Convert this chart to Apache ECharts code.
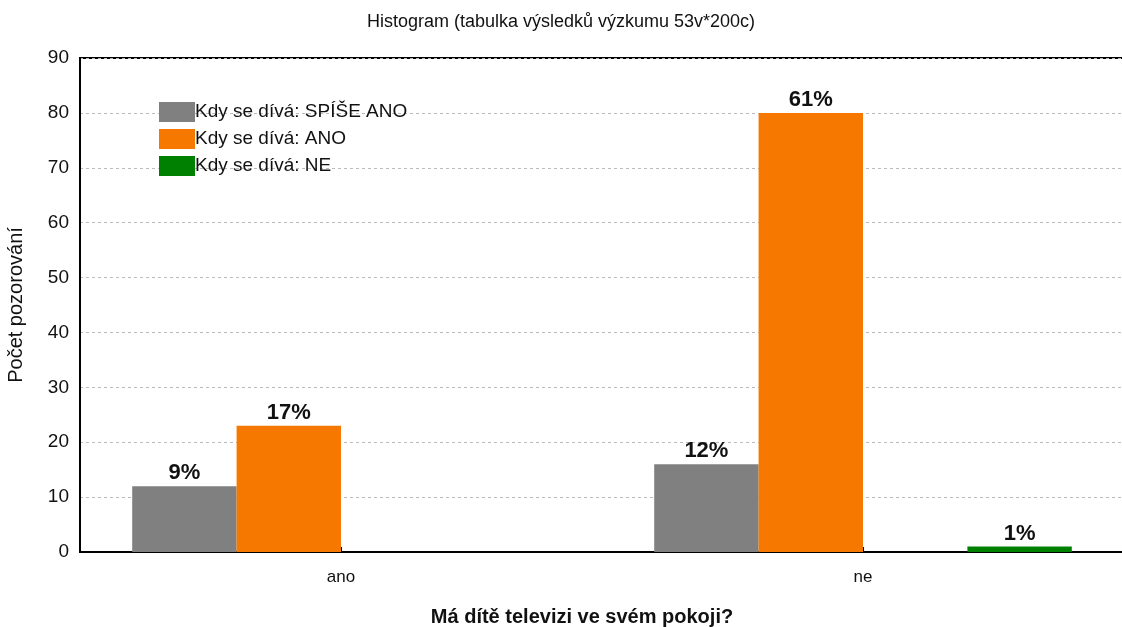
<!DOCTYPE html>
<html>
<head>
<meta charset="utf-8">
<script src="https://cdn.jsdelivr.net/npm/echarts@6/dist/echarts.min.js"></script>
<style>html,body{margin:0;padding:0;background:#fff}#c{width:1122px;height:627px}</style>
</head>
<body>
<div id="c"></div>
<script>
const categories = ['ano', 'ne'];
const seriesNames = ['Kdy se dívá: SPÍŠE ANO', 'Kdy se dívá: ANO', '', 'Kdy se dívá: NE'];
const spiseAno = [12, 16];
const anoVals = [23, 80];
const emptyVals = [0, 0];
const neVals = [0, 1];
const spiseAnoPct = ['9%', '12%'];
const anoPct = ['17%', '61%'];
const emptyPct = ['', ''];
const nePct = ['', '1%'];
const yTicks = [0, 10, 20, 30, 40, 50, 60, 70, 80, 90];

const colors = ['#808080', '#F77800', '#1a1a5a', '#008000'];
const valsList = [spiseAno, anoVals, emptyVals, neVals];
const pctList = [spiseAnoPct, anoPct, emptyPct, nePct];
const FONT = 'Liberation Sans, Arial, sans-serif';

const chart = echarts.init(document.getElementById('c'));
chart.setOption({
  animation: false,
  backgroundColor: '#fff',
  title: {
    text: 'Histogram (tabulka výsledků výzkumu 53v*200c)',
    left: 'center', top: 8, padding: [5, 0, 5, 28],
    textStyle: { fontFamily: FONT, fontSize: 18, fontWeight: 'normal', color: '#111' }
  },
  legend: {
    data: seriesNames.filter(n => n !== ''),
    orient: 'vertical', left: 154, top: 97,
    itemWidth: 36, itemHeight: 20, itemGap: 7,
    textStyle: { fontFamily: FONT, fontSize: 19, lineHeight: 20, color: '#111', padding: [0, 0, 0, -5] },
    icon: 'rect'
  },
  grid: {
    left: 80, right: -2, top: 58, bottom: 75,
    outerBoundsMode: 'none', containLabel: false,
    show: true, borderColor: '#000', borderWidth: 2, backgroundColor: 'transparent'
  },
  xAxis: {
    type: 'category', data: categories,
    name: 'Má dítě televizi ve svém pokoji?',
    nameLocation: 'middle', nameGap: 55,
    nameTextStyle: { fontFamily: FONT, fontSize: 20, fontWeight: 'bold', color: '#111', padding: [0, 40, 0, 0] },
    axisLine: { lineStyle: { color: '#000', width: 2 } },
    axisTick: { show: true, alignWithLabel: true, inside: true, length: 5, lineStyle: { color: '#000', width: 2 } },
    axisLabel: { fontFamily: FONT, fontSize: 17, color: '#111', margin: 17 }
  },
  yAxis: {
    type: 'value', min: yTicks[0], max: yTicks[yTicks.length - 1], interval: 10,
    name: 'Počet pozorování', nameLocation: 'middle', nameGap: 54,
    nameTextStyle: { fontFamily: FONT, fontSize: 20, color: '#111' },
    axisLine: { show: true, lineStyle: { color: '#000', width: 2 } },
    axisTick: { show: false },
    axisLabel: { fontFamily: FONT, fontSize: 19, color: '#111', margin: 11 },
    splitLine: { show: true, lineStyle: { color: '#bbb', type: [3, 3], width: 1 } }
  },
  series: seriesNames.map((name, i) => ({
    name: name,
    type: 'bar',
    barGap: '0%',
    barCategoryGap: '20%',
    itemStyle: { color: colors[i] },
    label: {
      show: true, position: 'top', distance: 2,
      fontFamily: FONT, fontSize: 22, fontWeight: 'bold', color: '#111',
      formatter: p => pctList[i][p.dataIndex]
    },
    data: valsList[i]
  }))
});
</script>
</body>
</html>
